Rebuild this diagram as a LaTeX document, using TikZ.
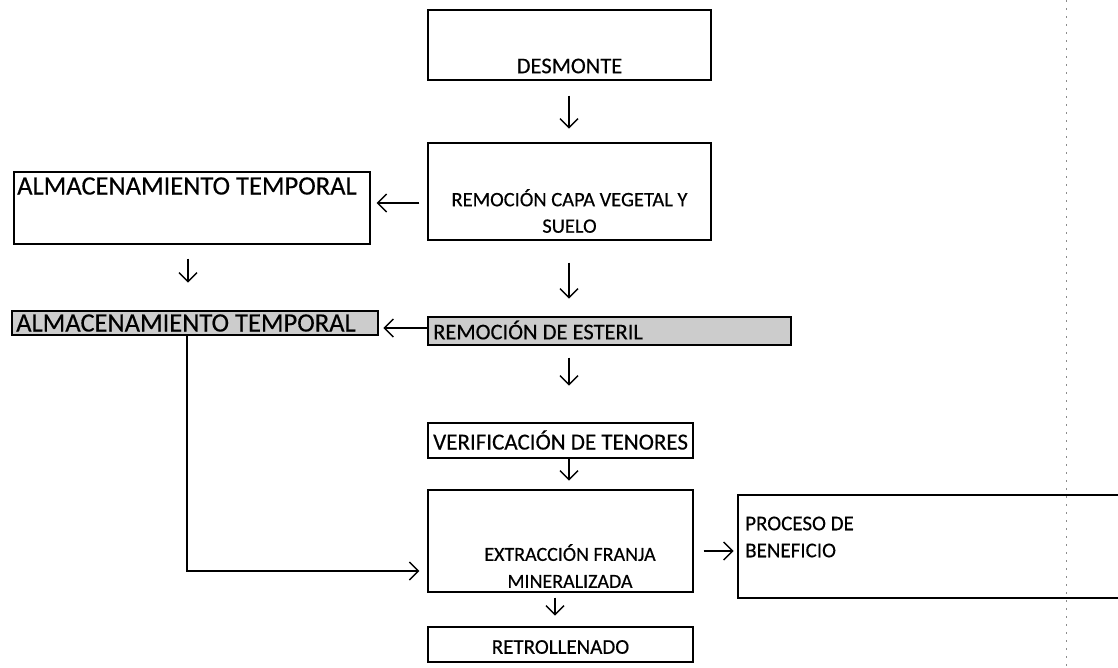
\documentclass[tikz,border=0pt]{standalone}
\usepackage{fontspec}
\setmainfont{Carlito}[UprightFeatures={FakeBold=0.35}]
\usetikzlibrary{arrows.meta}
\tikzset{
  box/.style={draw=black, line width=1.4pt, rectangle, inner sep=0pt},
  shaded/.style={box, fill=black!20},
  lbl/.style={inner sep=0pt},
  conn/.style={line width=1.4pt, -{Straight Barb[length=9pt,width=18pt,line width=1.4pt]}},
}
\newcommand{\fsz}[1]{\fontsize{#1}{#1}\selectfont}
\begin{document}
\begin{tikzpicture}[x=1pt,y=-1pt]
\clip (0,0) rectangle (1118,667);
\fill[white] (0,0) rectangle (1118,667);
% scan edge
\draw[black!45, line width=1pt, dash pattern=on 2pt off 6pt] (1066,0) -- (1066,667);
% boxes
\node[box, minimum width=283pt, minimum height=70pt] (des) at (569.5,45) {};
\node[lbl, font=\fsz{22.5}] at (569.5,66) {DESMONTE};
\node[box, minimum width=283pt, minimum height=97pt] (rcv) at (569.5,191.5) {};
\node[lbl, font=\fsz{20.5}, align=center] at (569.5,211) {REMOCIÓN CAPA VEGETAL Y\\[6pt]SUELO};
\node[box, minimum width=356pt, minimum height=72pt] (alm1) at (192,208) {};
\node[lbl, font=\fsz{26.5}, anchor=west] at (17,186) {ALMACENAMIENTO TEMPORAL};
\node[shaded, minimum width=366pt, minimum height=24pt] (alm2) at (195,323) {};
\node[lbl, font=\fsz{26.5}, anchor=west] at (16,323) {ALMACENAMIENTO TEMPORAL};
\node[shaded, minimum width=363pt, minimum height=28pt] (est) at (609.5,331) {};
\node[lbl, font=\fsz{22.5}, anchor=west] at (433,330) {REMOCIÓN DE ESTERIL};
\node[box, minimum width=265pt, minimum height=35pt] (ver) at (560.5,440.5) {};
\node[lbl, font=\fsz{23}, anchor=west] at (433,440) {VERIFICACIÓN DE TENORES};
\node[box, minimum width=265pt, minimum height=102pt] (ext) at (560.5,541) {};
\node[lbl, font=\fsz{20}, align=center] at (570,566) {EXTRACCIÓN FRANJA\\[7pt]MINERALIZADA};
\node[box, minimum width=392pt, minimum height=103pt] (pro) at (934,546.5) {};
\node[lbl, font=\fsz{21}, align=left, anchor=west] at (745,537) {PROCESO DE\\[6pt]BENEFICIO};
\node[box, minimum width=265pt, minimum height=35pt] (ret) at (560.5,644.5) {};
\node[lbl, font=\fsz{21}] at (560.5,647) {RETROLLENADO};
% connectors
\draw[conn] (des.south -| 569,0) ++(0,15) -- ++(0,33);
\draw[conn] (rcv.west |- 0,203) ++(-8,0) -- ([xshift=6pt]alm1.east |- 0,203);
\draw[conn] (alm1.south -| 188,0) ++(0,14) -- ++(0,24);
\draw[conn] (rcv.south -| 569,0) ++(0,22) -- ++(0,36);
\draw[conn] (est.west |- 0,328) -- ++(-44,0);
\draw[conn] (est.south -| 569,0) ++(0,12) -- ++(0,28);
\draw[conn] (ver.south -| 569,0) -- ++(0,22);
\draw[conn] (alm2.south -| 187,0) |- ([xshift=-8pt]ext.west |- 0,571);
\draw[conn] (ext.east |- 0,551) ++(10,0) -- ++(30,0);
\draw[conn] (ext.south -| 555,0) ++(0,5) -- ++(0,18);
\end{tikzpicture}
\end{document}
